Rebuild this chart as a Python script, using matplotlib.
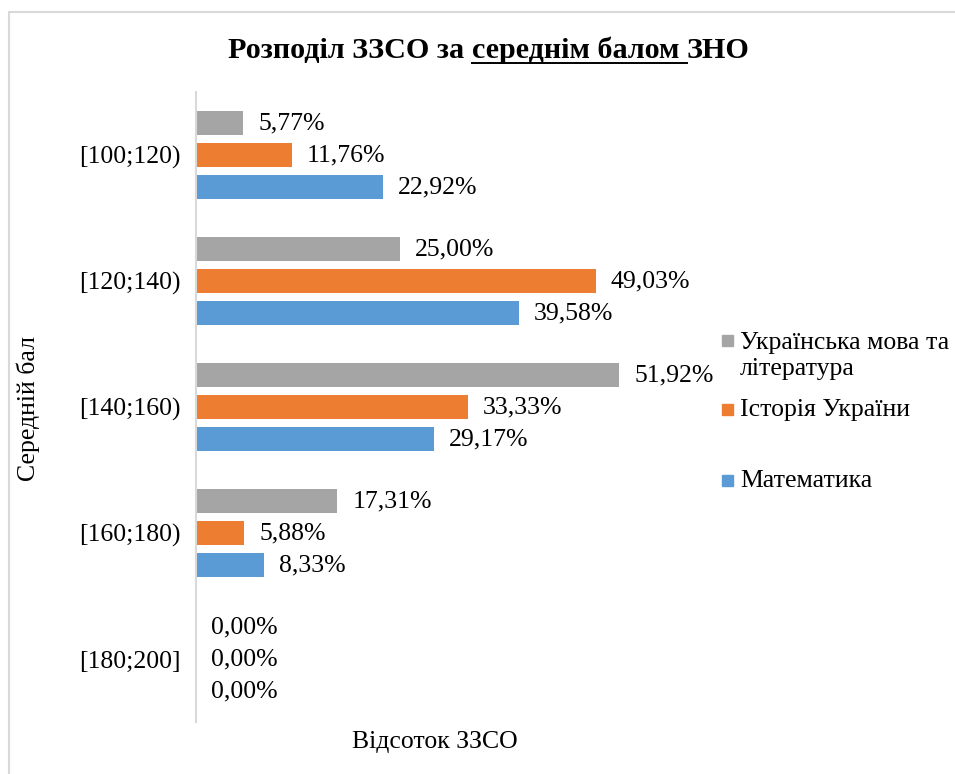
import matplotlib
matplotlib.use("Agg")
import matplotlib.pyplot as plt
from matplotlib.patches import Rectangle
from matplotlib.lines import Line2D
import numpy as np

# Data
categories = ["[100;120)", "[120;140)", "[140;160)", "[160;180)", "[180;200]"]
ukr_lang = [5.77, 25.00, 51.92, 17.31, 0.00]
history = [11.76, 49.03, 33.33, 5.88, 0.00]
maths = [22.92, 39.58, 29.17, 8.33, 0.00]
series_names = ["Українська мова та\nлітература", "Історія України", "Математика"]

plt.rcParams['font.family'] = ['Liberation Serif', 'DejaVu Serif']

W, H = 955, 774
fig = plt.figure(figsize=(W / 100, H / 100), dpi=100)
ax = fig.add_axes([196 / W, 1 - 722 / H, 489 / W, 630 / H])

colors = ['#A5A5A5', '#ED7D31', '#5B9BD5']
all_series = [ukr_lang, history, maths]
offsets = [-0.254, 0.0, 0.254]
bar_h = 0.19
fs = 18.5

y = np.arange(len(categories))
for vals, col, off in zip(all_series, colors, offsets):
    bars = ax.barh(y + off, vals, height=bar_h, color=col)
    for b, v in zip(bars, vals):
        ax.annotate(f"{v:.2f}%".replace('.', ','),
                    xy=(b.get_width(), b.get_y() + b.get_height() / 2),
                    xytext=(11, 0), textcoords='offset points',
                    ha='left', va='center', fontsize=fs)

ax.set_xlim(0, 489 / 8.15)
ax.set_ylim(4.5, -0.5)
ax.set_yticks(y)
ax.set_yticklabels(categories, fontsize=fs)
ax.tick_params(axis='y', length=0, pad=11)
ax.set_xticks([])
for s in ['top', 'right', 'bottom']:
    ax.spines[s].set_visible(False)
ax.spines['left'].set_color('#d9d9d9')
ax.spines['left'].set_linewidth(1.5)

# axis titles
fig.text(435 / W, 1 - 742 / H, "Відсоток ЗЗСО", ha='center', va='center', fontsize=fs)
fig.text(28 / W, 1 - 408 / H, "Середній бал", ha='center', va='center',
         rotation=90, fontsize=fs)

# legend drawn by hand to keep Excel-like spacing
leg_y = [356, 410, 481]
leg_marker_y = [341, 410, 481]
for name, col, ty, my in zip(series_names, colors, leg_y, leg_marker_y):
    fig.patches.append(Rectangle((722 / W, 1 - (my + 5) / H), 11 / W, 11 / H,
                                 transform=fig.transFigure, color=col))
    fig.text(740 / W, 1 - ty / H, name, ha='left', va='center', fontsize=fs,
             linespacing=1.2)

# title with underlined middle part
tfs = 21.7
t1 = fig.text(228 / W, 1 - 58 / H, "Розподіл ЗЗСО за ", fontsize=tfs,
              fontweight='bold', ha='left', va='baseline')
t2 = fig.text(0, 0, "середнім балом ", fontsize=tfs, fontweight='bold',
              ha='left', va='baseline')
t3 = fig.text(0, 0, "ЗНО", fontsize=tfs, fontweight='bold', ha='left', va='baseline')
fig.canvas.draw()
r = fig.canvas.get_renderer()
b1 = t1.get_window_extent(r)
t2.set_position((b1.x1 / W, 1 - 58 / H))
fig.canvas.draw()
b2 = t2.get_window_extent(r)
t3.set_position((b2.x1 / W, 1 - 58 / H))
fig.lines.append(Line2D([b2.x0 / W, b2.x1 / W], [1 - 63 / H, 1 - 63 / H],
                        transform=fig.transFigure, color='black', linewidth=1.4))

# outer chart border
fig.patches.append(Rectangle((9 / W, -0.1), 1.2, 1.1 - 12 / H,
                             transform=fig.transFigure, fill=False,
                             edgecolor='#d9d9d9', linewidth=1.5))

fig.savefig("out.png", dpi=100)
